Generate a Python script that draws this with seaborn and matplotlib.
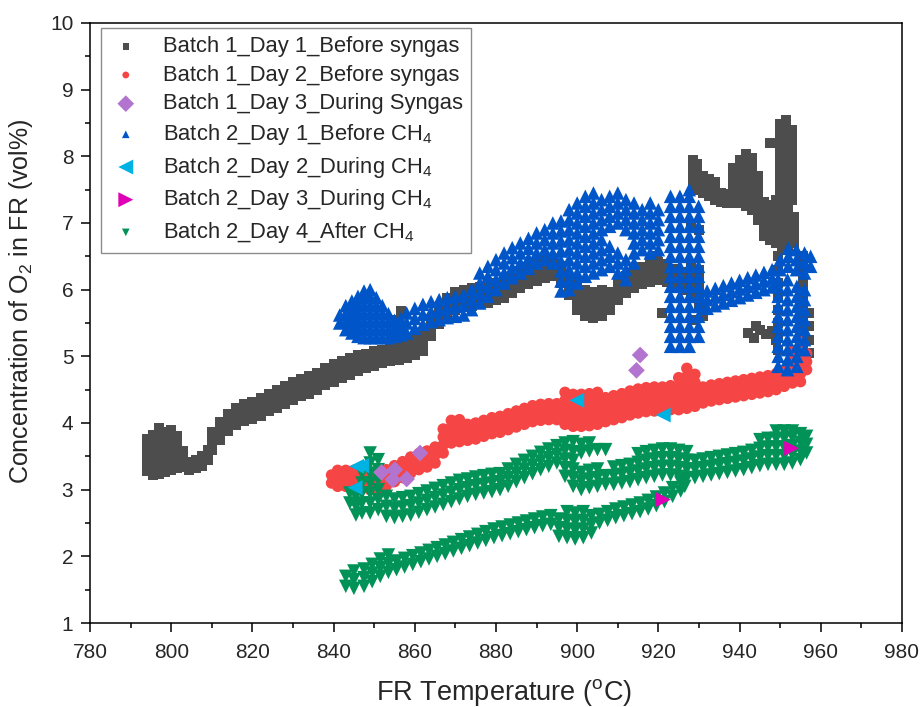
import matplotlib
matplotlib.use("Agg")
import matplotlib.pyplot as plt
import seaborn as sns
import pandas as pd
from matplotlib.ticker import MultipleLocator

# ------------------------------------------------------------------
# Measured data: each entry is (FR temperature degC, [O2 vol% readings at that temperature])
# ------------------------------------------------------------------
batch1_day1 = [
    (794, [3.28, 3.40, 3.52, 3.64, 3.76]),
    (795.5, [3.22, 3.34, 3.46, 3.58, 3.70, 3.82]),
    (797, [3.24, 3.36, 3.48, 3.60, 3.72, 3.84, 3.92]),
    (798.5, [3.26, 3.38, 3.50, 3.62, 3.74, 3.86]),
    (800, [3.30, 3.42, 3.54, 3.66, 3.78, 3.90]),
    (801.5, [3.32, 3.44, 3.56, 3.68, 3.80]),
    (803, [3.34, 3.46, 3.58]),
    (804.5, [3.30, 3.42]), (806, [3.32, 3.44]), (807.5, [3.36, 3.50]), (809, [3.45, 3.60]),
    (810, [3.60, 3.73, 3.86]), (812, [3.75, 3.88, 4.01]), (814, [3.88, 4.01, 4.14]),
    (816, [3.97, 4.10, 4.23]), (818, [4.03, 4.16, 4.29]), (820, [4.06, 4.19, 4.32]),
    (822, [4.11, 4.24, 4.37]), (824, [4.18, 4.31, 4.44]), (826, [4.23, 4.36, 4.49]),
    (828, [4.29, 4.42, 4.55]), (830, [4.35, 4.48, 4.61]), (832, [4.40, 4.53, 4.66]),
    (834, [4.44, 4.57, 4.70]), (836, [4.49, 4.62, 4.75]), (838, [4.57, 4.70, 4.83]),
    (840, [4.62, 4.75, 4.88]), (842, [4.67, 4.80, 4.93]), (844, [4.72, 4.85, 4.98]),
    (846, [4.78, 4.90, 5.02]), (848, [4.82, 4.93, 5.04]), (850, [4.86, 4.97, 5.08]),
    (852, [4.90, 5.00, 5.10]), (854, [4.93, 5.03, 5.13]), (856, [4.95, 5.06, 5.17, 5.42]),
    (855, [5.30]), (855.5, [5.55]), (856.5, [5.68]), (857, [5.30]),
    (858, [4.98, 5.09, 5.20]), (860, [5.02, 5.13, 5.24]), (862, [5.08, 5.20, 5.32]),
    (864, [5.30, 5.43, 5.56]), (866, [5.48, 5.61, 5.74]), (868, [5.62, 5.75, 5.88]),
    (870, [5.70, 5.83, 5.96]), (872, [5.74, 5.87, 6.00]), (874, [5.76, 5.89, 6.02]),
    (876, [5.78, 5.91, 6.04]), (878, [5.80, 5.93, 6.06]), (880, [5.84, 5.97, 6.10]),
    (882, [5.88, 6.01, 6.14]), (884, [5.95, 6.08, 6.21]), (886, [6.02, 6.15, 6.28]),
    (888, [6.08, 6.21, 6.34]), (890, [6.13, 6.26, 6.39]), (892, [6.18, 6.31, 6.44]),
    (894, [6.20, 6.33, 6.46]), (896, [6.10, 6.23, 6.36]), (898, [5.92, 6.05, 6.18]),
    (900, [5.70, 5.83, 5.96, 6.09]), (902, [5.60, 5.73, 5.86, 5.99]),
    (904, [5.58, 5.71, 5.84, 5.97]), (906, [5.60, 5.73, 5.86, 5.99]),
    (908, [5.70, 5.83, 5.96]), (910, [5.85, 5.98, 6.11]), (912, [5.95, 6.08, 6.21]),
    (914, [6.02, 6.15, 6.28]), (916, [6.08, 6.21, 6.34]), (918, [6.12, 6.25, 6.38]),
    (919.7, [6.50]), (920, [6.15, 6.28, 6.41]), (921, [5.65]), (922, [6.12, 6.25, 6.38]),
    (924, [6.05, 6.18, 6.31]), (926, [6.00, 6.13, 6.26]),
    (928, [5.90, 6.05, 6.20, 6.33, 6.95]), (929, [5.55]),
    (930, [5.72, 5.85, 6.00, 6.15, 6.30, 6.90]), (931, [5.60, 5.75]),
    (928.5, [7.55, 7.68, 7.81, 7.94]), (929.5, [7.50, 7.63, 7.76, 7.89]),
    (931, [7.45, 7.58, 7.71]), (932.5, [7.40, 7.53, 7.66]), (934, [7.35, 7.48, 7.61]),
    (935.5, [7.32, 7.45]), (937, [7.30, 7.43]),
    (938.5, [7.30, 7.43, 7.56, 7.69, 7.82]), (940, [7.30, 7.43, 7.56, 7.69, 7.82, 7.95]),
    (941.5, [7.25, 7.38, 7.51, 7.64, 7.77, 7.90, 8.03]),
    (943, [7.20, 7.33, 7.46, 7.59, 7.72, 7.85, 7.98]),
    (944.5, [7.05, 7.18, 7.31, 7.44, 7.57, 7.70]),
    (946, [6.80, 6.93, 7.06, 7.19, 7.32]), (947.5, [6.75, 6.88, 7.01, 7.14, 7.27, 8.20]),
    (949, [6.70, 6.83, 6.96, 7.09, 7.22, 7.35]),
    (950.5, [6.65, 6.78, 6.91, 7.04, 7.17, 7.30]),
    (952, [6.60, 6.73, 6.86, 6.99, 7.12, 7.25]), (953.5, [6.70, 6.83, 6.96, 7.09]),
    (950, [7.45, 7.58, 7.71, 7.84, 7.97, 8.10, 8.23, 8.36, 8.49]),
    (951.5, [7.40, 7.53, 7.66, 7.79, 7.92, 8.05, 8.18, 8.31, 8.44, 8.55]),
    (953, [7.35, 7.48, 7.61, 7.74, 7.87, 8.00, 8.13, 8.26, 8.39]),
    (955.5, [5.00, 5.15, 5.30, 5.45, 5.60, 5.75, 5.90, 6.05, 6.20, 6.35, 6.50]),
    (957, [5.05, 5.25, 5.45, 5.65]),
    (949.5, [5.10, 5.30, 5.50, 5.70, 5.90, 6.10, 6.30, 6.50]),
    (942, [5.35]), (943.5, [5.28]), (944, [5.45]), (945, [5.40]), (946.5, [5.33]),
    (948, [5.38]), (949, [5.25]),
]

batch1_day2 = [
    (839.5, [3.10, 3.22]), (841, [3.05, 3.17, 3.29]), (843, [3.05, 3.17, 3.29]),
    (845, [3.05, 3.17, 3.29]), (847, [3.02, 3.14, 3.26]), (849, [3.00, 3.12, 3.24]),
    (851, [3.02, 3.14, 3.26]), (853, [3.06, 3.18, 3.30]), (855, [3.12, 3.24, 3.36]),
    (857, [3.18, 3.30, 3.42]), (859, [3.25, 3.37, 3.49]), (861, [3.30, 3.42, 3.54]),
    (863, [3.34, 3.46, 3.58]), (865, [3.40, 3.52, 3.64]),
    (867, [3.55, 3.67, 3.79, 3.91]), (869, [3.70, 3.82, 3.94, 4.04]),
    (871, [3.72, 3.84, 3.96, 4.05]), (873, [3.74, 3.86, 3.98]), (875, [3.76, 3.88, 4.00]),
    (877, [3.80, 3.92, 4.04]), (879, [3.84, 3.96, 4.08]), (881, [3.86, 3.98, 4.10]),
    (883, [3.90, 4.02, 4.14]), (885, [3.94, 4.06, 4.18]), (887, [3.98, 4.10, 4.22]),
    (889, [4.02, 4.14, 4.26]), (891, [4.04, 4.16, 4.28]), (893, [4.05, 4.17, 4.29]),
    (895, [4.05, 4.17, 4.29]),
    (897, [3.98, 4.10, 4.22, 4.34, 4.46]), (899, [3.95, 4.07, 4.19, 4.31, 4.43]),
    (901, [3.95, 4.07, 4.19, 4.31, 4.43]), (903, [3.96, 4.08, 4.20, 4.32, 4.44]),
    (905, [3.98, 4.10, 4.22, 4.34, 4.46]), (907, [4.02, 4.14, 4.26, 4.38]),
    (909, [4.05, 4.17, 4.29, 4.41]), (911, [4.08, 4.20, 4.32, 4.44]),
    (913, [4.12, 4.24, 4.36, 4.48]), (915, [4.15, 4.27, 4.39, 4.51]),
    (917, [4.17, 4.29, 4.41, 4.53]), (919, [4.18, 4.30, 4.42, 4.54]),
    (921, [4.18, 4.30, 4.42, 4.54]), (923, [4.20, 4.32, 4.44, 4.56]),
    (925, [4.20, 4.32, 4.44, 4.56, 4.68]), (927, [4.22, 4.34, 4.46, 4.58, 4.70, 4.82]),
    (929, [4.25, 4.37, 4.49, 4.61, 4.73]), (931, [4.30, 4.42, 4.54]),
    (933, [4.33, 4.45, 4.57]), (935, [4.35, 4.47, 4.59]), (937, [4.37, 4.49, 4.61]),
    (939, [4.39, 4.51, 4.63]), (941, [4.41, 4.53, 4.65]), (943, [4.43, 4.55, 4.67]),
    (945, [4.45, 4.57, 4.69]), (947, [4.47, 4.59, 4.71]), (949, [4.50, 4.62, 4.74]),
    (951, [4.55, 4.67, 4.79]), (953, [4.60, 4.72, 4.84, 4.96, 5.08]),
    (955, [4.62, 4.74, 4.86, 4.98, 5.10, 5.22]), (956.5, [4.80, 4.92, 5.04]),
]

batch1_day3 = [
    (851.8, [3.26]), (855.1, [3.30]), (854.6, [3.15]), (858.0, [3.16]), (861.3, [3.55]),
    (915.5, [5.02]), (914.6, [4.79]),
]

batch2_day1 = [
    (841.5, [5.50, 5.62]), (843, [5.40, 5.52, 5.64, 5.76]),
    (844.5, [5.35, 5.47, 5.59, 5.71, 5.83]), (846, [5.30, 5.42, 5.54, 5.66, 5.78, 5.90]),
    (847.5, [5.28, 5.40, 5.52, 5.64, 5.76, 5.88, 5.98]),
    (849, [5.28, 5.40, 5.52, 5.64, 5.76, 5.88, 6.00]),
    (850.5, [5.28, 5.40, 5.52, 5.64, 5.76, 5.88]), (852, [5.28, 5.40, 5.52, 5.64, 5.76]),
    (853.5, [5.28, 5.40, 5.52, 5.64]), (855, [5.30, 5.42, 5.54]), (856.5, [5.32, 5.44, 5.56]),
    (858, [5.35, 5.50, 5.65]), (860, [5.42, 5.57, 5.72]), (862, [5.48, 5.63, 5.78]),
    (864, [5.52, 5.67, 5.82]), (866, [5.55, 5.70, 5.85]), (868, [5.58, 5.73, 5.88]),
    (870, [5.60, 5.75, 5.90]), (872, [5.62, 5.77, 5.92]), (874, [5.70, 5.85, 6.00]),
    (876, [5.80, 5.95, 6.10, 6.25]), (878, [5.90, 6.05, 6.20, 6.35]),
    (880, [6.00, 6.15, 6.30, 6.45]), (882, [6.10, 6.25, 6.40, 6.55]),
    (884, [6.18, 6.33, 6.48, 6.63]), (886, [6.25, 6.40, 6.55, 6.70]),
    (888, [6.32, 6.47, 6.62, 6.77]), (890, [6.40, 6.55, 6.70, 6.85]),
    (892, [6.45, 6.60, 6.75, 6.90]), (894, [6.40, 6.55, 6.70, 6.85, 7.00]),
    (896, [5.98, 6.13, 6.28, 6.43, 6.58, 6.73, 6.88, 7.03]),
    (898, [6.00, 6.15, 6.30, 6.45, 6.60, 6.75, 6.90, 7.05, 7.20]),
    (900, [6.10, 6.25, 6.40, 6.55, 6.70, 6.85, 7.00, 7.15, 7.30]),
    (902, [6.20, 6.35, 6.50, 6.65, 6.80, 6.95, 7.10, 7.25, 7.40]),
    (904, [6.25, 6.40, 6.55, 6.70, 6.85, 7.00, 7.15, 7.30, 7.45]),
    (906, [6.30, 6.45, 6.60, 6.75, 6.90, 7.05, 7.20, 7.35]),
    (908, [6.35, 6.50, 6.65, 6.95, 7.10, 7.25, 7.40]),
    (910, [6.25, 6.40, 6.55, 7.00, 7.15, 7.30, 7.45]),
    (912, [6.15, 6.30, 6.45, 6.90, 7.05, 7.20, 7.35]),
    (914, [6.40, 6.55, 6.70, 6.85, 7.00, 7.15, 7.30]),
    (916, [6.60, 6.75, 6.90, 7.05, 7.20]), (918, [6.55, 6.70, 6.85, 7.00, 7.15, 7.30]),
    (920, [6.60, 6.75, 6.90, 7.05, 7.20]),
    (923, [5.15, 5.30, 5.45, 5.60, 5.75, 5.90, 6.05, 6.20, 6.35, 6.50, 6.65, 6.80, 6.95, 7.10, 7.25, 7.40]),
    (925.3, [5.15, 5.30, 5.45, 5.60, 5.75, 5.90, 6.05, 6.20, 6.35, 6.50, 6.65, 6.80, 6.95, 7.10, 7.25, 7.40]),
    (927.6, [5.15, 5.30, 5.45, 5.60, 5.75, 5.90, 6.05, 6.20, 6.35, 6.50, 6.65, 6.80, 6.95, 7.10, 7.25, 7.40, 7.50]),
    (929.9, [5.30, 5.45, 5.60, 5.75, 5.90, 6.05, 6.20, 6.35, 6.50, 6.65, 6.80, 6.95, 7.10, 7.25]),
    (932, [5.72, 5.85, 5.98]), (934, [5.76, 5.89, 6.02]), (936, [5.80, 5.93, 6.06]),
    (938, [5.84, 5.97, 6.10]), (940, [5.88, 6.01, 6.14]), (942, [5.92, 6.05, 6.18]),
    (944, [5.96, 6.09, 6.22]), (946, [6.00, 6.13, 6.26]), (948, [6.04, 6.17, 6.30]),
    (950, [6.30, 6.45]), (952, [6.35, 6.50, 6.62]), (954, [6.30, 6.45, 6.60]),
    (956, [6.25, 6.40, 6.55]), (957.5, [6.35, 6.50]),
    (949.5, [4.85, 5.00, 5.15, 5.30, 5.45, 5.60, 5.75, 5.90, 6.05, 6.15]),
    (951.8, [4.80, 4.95, 5.10, 5.25, 5.40, 5.55, 5.70, 5.85, 6.00, 6.15]),
    (954.1, [4.85, 5.00, 5.15, 5.30, 5.45, 5.60, 5.75, 5.90, 6.05]),
    (956, [5.10, 5.25, 5.40, 5.55, 5.70, 5.85, 6.00]),
]

batch2_day2 = [
    (845.7, [3.35]), (846.9, [3.36]), (845.3, [3.03]), (899.9, [4.34]), (921.2, [4.12]),
]

batch2_day3 = [
    (921.2, [2.85]), (952.8, [3.62]),
]

batch2_day4 = [
    # upper branch
    (847, [2.65, 2.80, 2.95, 3.10, 3.25]), (849, [2.65, 2.80, 2.95, 3.10, 3.25, 3.40, 3.55]),
    (851, [2.70, 2.85, 3.00, 3.15, 3.30, 3.45]),
    (844, [2.80, 2.95]), (845.5, [2.62, 2.75, 2.90]),
    (853, [2.60, 2.75, 2.90]), (855, [2.58, 2.72, 2.86]), (857, [2.60, 2.74, 2.88]),
    (859, [2.62, 2.76, 2.90]), (861, [2.66, 2.80, 2.94]), (863, [2.70, 2.84, 2.98]),
    (865, [2.74, 2.88, 3.02]), (867, [2.78, 2.92, 3.06]), (869, [2.82, 2.96, 3.10]),
    (871, [2.86, 3.00, 3.14]), (873, [2.90, 3.03, 3.16]), (875, [2.93, 3.06, 3.19]),
    (877, [2.95, 3.08, 3.21]), (879, [2.97, 3.10, 3.23]), (881, [3.00, 3.12, 3.24]),
    (883, [3.05, 3.18, 3.31]), (885, [3.12, 3.25, 3.38]), (887, [3.18, 3.31, 3.44]),
    (889, [3.24, 3.37, 3.50]), (891, [3.30, 3.43, 3.56]), (893, [3.35, 3.48, 3.61]),
    (895, [3.40, 3.53, 3.66]), (897, [3.20, 3.33, 3.46, 3.59, 3.70]),
    (899, [3.05, 3.18, 3.31, 3.44, 3.57, 3.72]),
    (901, [3.00, 3.13, 3.26, 3.55, 3.68]), (903, [3.03, 3.16, 3.29, 3.58, 3.70]),
    (905, [3.05, 3.18, 3.31, 3.60]), (907, [3.08, 3.21, 3.60]),
    (909, [3.08, 3.21, 3.34]), (911, [3.10, 3.23, 3.36]), (913, [3.12, 3.25, 3.38]),
    (915, [3.15, 3.28, 3.41, 3.54]), (917, [3.18, 3.31, 3.44, 3.57]),
    (919, [3.20, 3.33, 3.46, 3.59]), (921, [3.22, 3.35, 3.48, 3.61]),
    (923, [3.22, 3.35, 3.48, 3.61]), (925, [3.20, 3.33, 3.46, 3.59]),
    (927, [3.18, 3.31, 3.44, 3.57]), (929, [3.18, 3.31, 3.44]), (931, [3.20, 3.33, 3.46]),
    (933, [3.22, 3.35, 3.48]), (935, [3.24, 3.37, 3.50]), (937, [3.26, 3.39, 3.52]),
    (939, [3.28, 3.41, 3.54]), (941, [3.30, 3.43, 3.56]), (943, [3.33, 3.46, 3.59]),
    (945, [3.36, 3.49, 3.62, 3.75]), (947, [3.38, 3.51, 3.64, 3.77]),
    (949, [3.38, 3.51, 3.64, 3.77, 3.88]), (951, [3.38, 3.51, 3.64, 3.77, 3.88]),
    (953, [3.40, 3.53, 3.66, 3.79, 3.88]), (955, [3.45, 3.58, 3.71, 3.84]),
    (956.5, [3.55, 3.68, 3.80]),
    # lower branch
    (843, [1.55, 1.70]), (845, [1.52, 1.65, 1.78]), (847.5, [1.55, 1.68, 1.81]),
    (849.5, [1.62, 1.75, 1.88]), (851.5, [1.70, 1.83, 1.96]), (853.5, [1.76, 1.89, 2.02]),
    (855.5, [1.80, 1.93]), (857.5, [1.84, 1.97]), (859.5, [1.88, 2.01]),
    (861.5, [1.92, 2.05]), (863.5, [1.96, 2.09]), (865.5, [2.00, 2.13]),
    (867.5, [2.04, 2.17]), (869.5, [2.08, 2.21]), (871.5, [2.12, 2.25]),
    (873.5, [2.16, 2.29]), (875.5, [2.20, 2.33]), (877.5, [2.24, 2.37]),
    (879.5, [2.28, 2.41]), (881.5, [2.31, 2.44]), (883.5, [2.34, 2.47]),
    (885.5, [2.37, 2.50]), (887.5, [2.40, 2.53]), (889.5, [2.43, 2.56]),
    (891.5, [2.46, 2.59]), (893.5, [2.48, 2.61]), (895.5, [2.30, 2.43, 2.56]),
    (897.5, [2.28, 2.41, 2.54, 2.67]), (899.5, [2.26, 2.39, 2.52, 2.65]),
    (901.5, [2.28, 2.41, 2.54, 2.67]), (903.5, [2.35, 2.48, 2.61]),
    (905.5, [2.50, 2.63]), (907.5, [2.54, 2.67]), (909.5, [2.58, 2.71]),
    (911.5, [2.61, 2.74]), (913.5, [2.64, 2.77]), (915.5, [2.67, 2.80]),
    (917.5, [2.71, 2.84]), (919.5, [2.76, 2.89]), (921.5, [2.82, 2.95]),
    (923.5, [2.90, 3.03]), (925.5, [2.98, 3.11]), (926.5, [3.05, 3.18]),
]

x_ticks = [780, 800, 820, 840, 860, 880, 900, 920, 940, 960, 980]
y_ticks = [1, 2, 3, 4, 5, 6, 7, 8, 9, 10]


def to_frame(columns):
    rows = [(t, o) for t, readings in columns for o in readings]
    return pd.DataFrame(rows, columns=["temp", "o2"])


# (data, legend label, colour, marker, marker area, legend marker area)
series = [
    (batch1_day1, "Batch 1_Day 1_Before syngas", "#4d4d4d", "s", 52, 22),
    (batch1_day2, "Batch 1_Day 2_Before syngas", "#f54545", "o", 68, 24),
    (batch2_day1, "Batch 2_Day 1_Before CH$_4$", "#0055c8", "^", 95, 30),
    (batch2_day4, "Batch 2_Day 4_After CH$_4$", "#009256", "v", 95, 30),
    (batch1_day3, "Batch 1_Day 3_During Syngas", "#b374d0", "D", 72, 72),
    (batch2_day2, "Batch 2_Day 2_During CH$_4$", "#00b2e2", "<", 115, 115),
    (batch2_day3, "Batch 2_Day 3_During CH$_4$", "#e000b5", ">", 115, 115),
]
legend_order = [
    "Batch 1_Day 1_Before syngas",
    "Batch 1_Day 2_Before syngas",
    "Batch 1_Day 3_During Syngas",
    "Batch 2_Day 1_Before CH$_4$",
    "Batch 2_Day 2_During CH$_4$",
    "Batch 2_Day 3_During CH$_4$",
    "Batch 2_Day 4_After CH$_4$",
]

sns.set_theme(style="white")
plt.rcParams["font.family"] = ["Liberation Sans", "DejaVu Sans"]
plt.rcParams["mathtext.default"] = "regular"

fig = plt.figure(figsize=(9.22, 7.07), dpi=100)
ax = fig.add_axes([0.0976, 0.1188, 0.8807, 0.8487])

legend_sizes = {}
for cols, label, color, marker, size, lsize in series:
    sns.scatterplot(data=to_frame(cols), x="temp", y="o2", ax=ax, color=color,
                    marker=marker, s=size, linewidth=0, edgecolor="none",
                    label=label, zorder=3)
    legend_sizes[label] = lsize

ax.set_xlim(780, 980)
ax.set_ylim(1, 10)
ax.set_xticks(x_ticks)
ax.set_yticks(y_ticks)
ax.xaxis.set_minor_locator(MultipleLocator(10))
ax.yaxis.set_minor_locator(MultipleLocator(0.5))
ax.tick_params(axis="both", which="major", direction="out", length=6.5, width=1.1,
               labelsize=15, color="black", bottom=True, left=True, top=False, right=False)
ax.tick_params(axis="both", which="minor", direction="out", length=3.6, width=1.1,
               color="black", bottom=True, left=True, top=False, right=False)
ax.tick_params(axis="x", which="major", pad=8)
ax.tick_params(axis="y", which="major", pad=5.5)
for sp in ax.spines.values():
    sp.set_visible(True)
    sp.set_color("black")
    sp.set_linewidth(1.1)

ax.set_xlabel("FR Temperature ($^{o}$C)", fontsize=19.5)
ax.set_ylabel("Concentration of O$_2$ in FR (vol%)", fontsize=18)
ax.xaxis.set_label_coords(0.51, -0.09)
ax.yaxis.set_label_coords(-0.068, 0.537)

handles, labels = ax.get_legend_handles_labels()
hmap = dict(zip(labels, handles))
leg = ax.legend([hmap[l] for l in legend_order], legend_order, loc="upper left",
                bbox_to_anchor=(0.013, 0.991), fontsize=15.8, frameon=True, fancybox=False,
                edgecolor="#8c8c8c", framealpha=1, borderpad=0.35, labelspacing=0.35,
                handletextpad=0.9, handlelength=1.6, borderaxespad=0.0)
leg.get_frame().set_linewidth(1.0)
for h, l in zip(leg.legend_handles, legend_order):
    h.set_sizes([legend_sizes[l]])

fig.savefig("out.png", dpi=100)
